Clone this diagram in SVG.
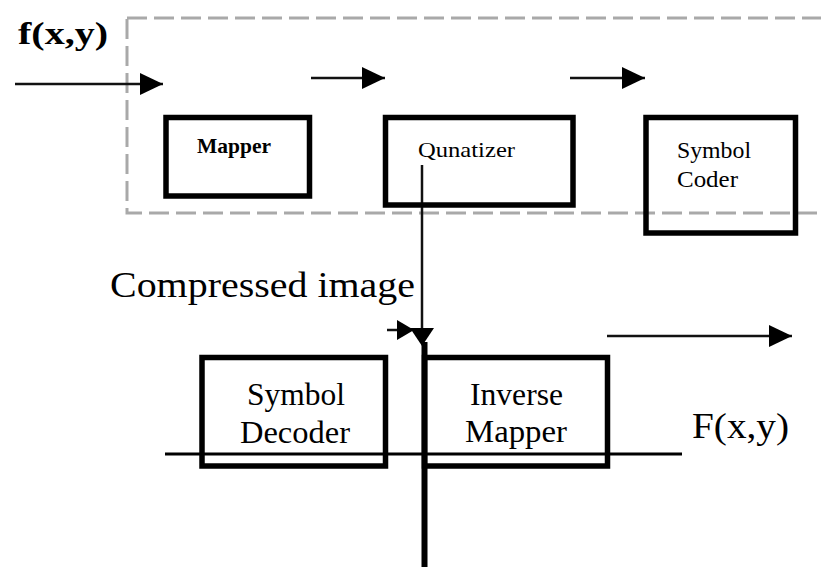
<svg xmlns="http://www.w3.org/2000/svg" width="821" height="567" viewBox="0 0 821 567">
<defs>
<style>
.box{fill:none;stroke:#000;stroke-width:5.5}
.ln{stroke:#111;stroke-width:2.5;fill:none}
.t{font-family:"Liberation Serif","Times New Roman",serif;fill:#000}
</style>
<marker id="ah" markerUnits="userSpaceOnUse" markerWidth="24" markerHeight="24" refX="23" refY="11" orient="auto">
<path d="M0,0 L23,11 L0,22 Z" fill="#000"/>
</marker>
</defs>
<rect x="0" y="0" width="821" height="567" fill="#fff"/>
<rect x="127" y="18" width="720" height="195" fill="none" stroke="#a9a9a9" stroke-width="3" stroke-dasharray="20,7"/>
<g id="connectors">
<line class="ln" x1="15" y1="84" x2="163" y2="84" marker-end="url(#ah)"/>
<line class="ln" x1="311" y1="78" x2="385" y2="78" marker-end="url(#ah)"/>
<line class="ln" x1="570" y1="78" x2="645" y2="78" marker-end="url(#ah)"/>
<line class="ln" x1="607" y1="336" x2="792" y2="336" marker-end="url(#ah)"/>
<line class="ln" x1="422" y1="165" x2="422" y2="342"/>
<path d="M410,328 L434,328 L422,346 Z" fill="#000"/>
<line class="ln" x1="387" y1="330" x2="398" y2="330"/>
<path d="M397,320 L414,330 L397,340 Z" fill="#000"/>
<line x1="424.5" y1="342" x2="424.5" y2="567" stroke="#000" stroke-width="6"/>
<line x1="165" y1="454" x2="682" y2="454" stroke="#000" stroke-width="3"/>
</g>
<g id="f-in"><text class="t" x="18" y="44" font-size="32" font-weight="bold" textLength="90" lengthAdjust="spacingAndGlyphs">f(x,y)</text></g>
<g id="mapper">
<rect class="box" x="166" y="117.5" width="143.5" height="78.5"/>
<text class="t" x="197" y="153" font-size="21" font-weight="bold" textLength="74" lengthAdjust="spacingAndGlyphs">Mapper</text>
</g>
<g id="quantizer">
<rect class="box" x="385.5" y="117.5" width="187.5" height="87.5"/>
<text class="t" x="418" y="157" font-size="21" textLength="97" lengthAdjust="spacingAndGlyphs">Qunatizer</text>
</g>
<g id="symbol-coder">
<rect class="box" x="646" y="117.5" width="149.5" height="115.5"/>
<text class="t" x="677" y="158" font-size="23" textLength="74" lengthAdjust="spacingAndGlyphs">Symbol</text>
<text class="t" x="677" y="187" font-size="23" textLength="61" lengthAdjust="spacingAndGlyphs">Coder</text>
</g>
<g id="compressed-label"><text class="t" x="110" y="297" font-size="36" textLength="305" lengthAdjust="spacingAndGlyphs">Compressed image</text></g>
<g id="symbol-decoder">
<rect class="box" x="202" y="357.5" width="183.5" height="108.5"/>
<text class="t" x="247" y="405" font-size="31" textLength="98" lengthAdjust="spacingAndGlyphs">Symbol</text>
<text class="t" x="240" y="443" font-size="31" textLength="110" lengthAdjust="spacingAndGlyphs">Decoder</text>
</g>
<g id="inverse-mapper">
<rect class="box" x="424.5" y="357.5" width="183" height="108.5"/>
<text class="t" x="470" y="405" font-size="31" textLength="93" lengthAdjust="spacingAndGlyphs">Inverse</text>
<text class="t" x="465" y="442" font-size="31" textLength="102" lengthAdjust="spacingAndGlyphs">Mapper</text>
</g>
<g id="f-out"><text class="t" x="692" y="438" font-size="35" textLength="97" lengthAdjust="spacingAndGlyphs">F(x,y)</text></g>
</svg>
